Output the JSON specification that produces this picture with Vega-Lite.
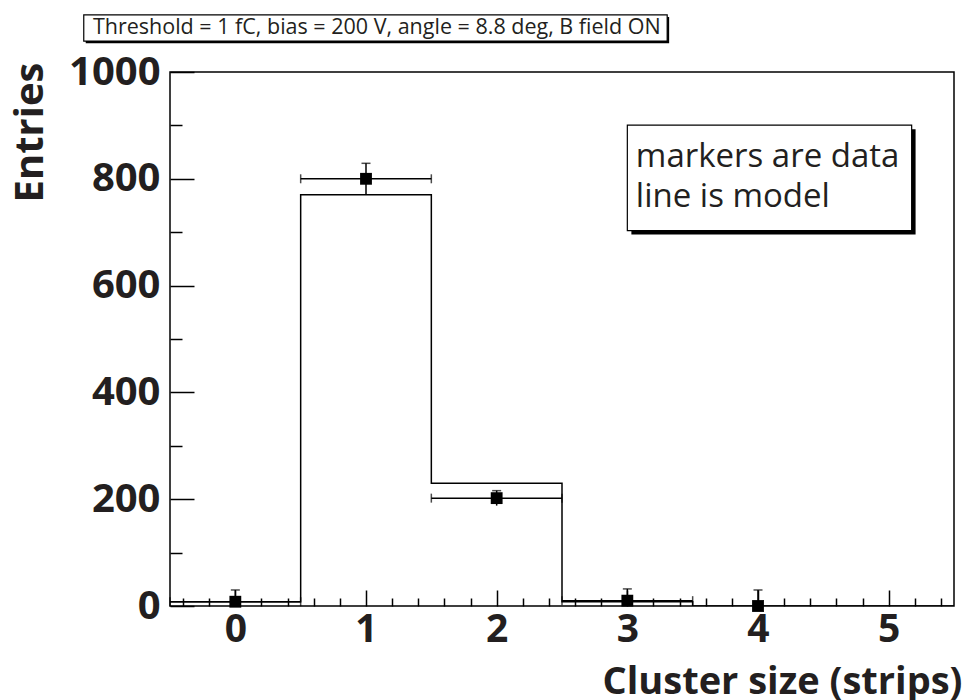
{
  "$schema": "https://vega.github.io/schema/vega-lite/v6.json",
  "autosize": "none",
  "width": 784,
  "height": 534,
  "padding": {"left": 170, "top": 72, "right": 14, "bottom": 94},
  "background": "white",
  "config": {
    "view": {"stroke": "black", "strokeWidth": 1.5},
    "font": "Open Sans",
    "axis": {"labelOverlap": false, "labelFlush": false, "labelBound": false}
  },
  "resolve": {"axis": {"x": "independent"}},
  "datasets": {
    "model": [
      {"edge": -0.5, "count": 8},
      {"edge": 0.5, "count": 770},
      {"edge": 1.5, "count": 230},
      {"edge": 2.5, "count": 8},
      {"edge": 3.5, "count": 0},
      {"edge": 4.5, "count": 0},
      {"edge": 5.5, "count": 0}
    ],
    "points": [
      {"size": 0, "entries": 8, "lo": 8, "hi": 30, "xlo": -0.5, "xhi": 0.5},
      {"size": 1, "entries": 800, "lo": 771, "hi": 829, "xlo": 0.5, "xhi": 1.5},
      {"size": 2, "entries": 202, "lo": 188, "hi": 216, "xlo": 1.5, "xhi": 2.5},
      {"size": 3, "entries": 10, "lo": 10, "hi": 32, "xlo": 2.5, "xhi": 3.5},
      {"size": 4, "entries": 0, "lo": 0, "hi": 30, "xlo": 3.5, "xhi": 4.5}
    ]
  },
  "layer": [
    {
      "data": {"name": "model"},
      "mark": {"type": "line", "interpolate": "step-after", "color": "black", "strokeWidth": 1.5, "clip": true},
      "encoding": {
        "x": {
          "field": "edge", "type": "quantitative",
          "scale": {"domain": [-0.5, 5.5], "nice": false, "zero": false},
          "axis": {
            "orient": "bottom",
            "values": [0, 1, 2, 3, 4, 5],
            "format": "d",
            "title": "Cluster size (strips)",
            "titleFont": "Open Sans", "titleFontSize": 38, "titleFontWeight": "bold", "titleColor": "#231f20",
            "titleAlign": "right", "titleBaseline": "alphabetic", "titleX": 792, "titleY": 87,
            "labelFont": "Open Sans", "labelFontSize": 39, "labelFontWeight": "bold", "labelColor": "#231f20",
            "labelPadding": 20, "labelOverlap": false, "labelFlush": false,
            "domain": false, "grid": false,
            "tickColor": "black", "tickWidth": 1.5, "tickSize": -16
          }
        },
        "y": {
          "field": "count", "type": "quantitative",
          "scale": {"domain": [0, 1000], "nice": false, "zero": true},
          "axis": {
            "values": [0,50,100,150,200,250,300,350,400,450,500,550,600,650,700,750,800,850,900,950,1000],
            "labelExpr": "datum.value % 200 === 0 ? format(datum.value, 'd') : ''",
            "title": "Entries",
            "titleFont": "Open Sans", "titleFontSize": 40, "titleFontWeight": "bold", "titleColor": "#231f20",
            "titleAngle": 270, "titleAlign": "right", "titleBaseline": "middle", "titleX": -140, "titleY": -10,
            "labelFont": "Open Sans", "labelFontSize": 40, "labelFontWeight": "bold", "labelColor": "#231f20",
            "labelPadding": 34, "labelOverlap": false, "labelFlush": false,
            "domain": false, "grid": false,
            "tickColor": "black", "tickWidth": 1.5,
            "tickSize": {"condition": {"test": "datum.value % 200 === 0", "value": -24}, "value": -12}
          }
        }
      }
    },
    {
      "data": {"name": "points"},
      "transform": [{"filter": "datum.entries > 0"}],
      "mark": {"type": "rule", "color": "black", "strokeWidth": 1.5},
      "encoding": {
        "x": {
          "field": "xlo", "type": "quantitative",
          "axis": {
            "orient": "bottom",
            "values": [-0.4,-0.2,0.2,0.4,0.6,0.8,1.2,1.4,1.6,1.8,2.2,2.4,2.6,2.8,3.2,3.4,3.6,3.8,4.2,4.4,4.6,4.8,5.2,5.4],
            "labels": false, "title": null, "domain": false, "grid": false,
            "tickColor": "black", "tickWidth": 1.5, "tickSize": -8
          }
        },
        "x2": {"field": "xhi"},
        "y": {"field": "entries", "type": "quantitative"}
      }
    },
    {
      "data": {"name": "points"},
      "transform": [{"filter": "datum.entries > 0"}],
      "mark": {"type": "tick", "orient": "vertical", "color": "black", "size": 9, "thickness": 1.5},
      "encoding": {
        "x": {"field": "xlo", "type": "quantitative", "axis": null},
        "y": {"field": "entries", "type": "quantitative"}
      }
    },
    {
      "data": {"name": "points"},
      "transform": [{"filter": "datum.entries > 0"}],
      "mark": {"type": "tick", "orient": "vertical", "color": "black", "size": 9, "thickness": 1.5},
      "encoding": {
        "x": {"field": "xhi", "type": "quantitative", "axis": null},
        "y": {"field": "entries", "type": "quantitative"}
      }
    },
    {
      "data": {"name": "points"},
      "mark": {"type": "rule", "color": "black", "strokeWidth": 1.5},
      "encoding": {
        "x": {"field": "size", "type": "quantitative", "axis": null},
        "y": {"field": "lo", "type": "quantitative"},
        "y2": {"field": "hi"}
      }
    },
    {
      "data": {"name": "points"},
      "mark": {"type": "tick", "orient": "horizontal", "color": "black", "size": 9, "thickness": 1.5},
      "encoding": {
        "x": {"field": "size", "type": "quantitative", "axis": null},
        "y": {"field": "hi", "type": "quantitative"}
      }
    },
    {
      "data": {"name": "points"},
      "mark": {"type": "point", "shape": "square", "filled": true, "color": "black", "size": 140, "opacity": 1},
      "encoding": {
        "x": {"field": "size", "type": "quantitative", "axis": null},
        "y": {"field": "entries", "type": "quantitative"}
      }
    },
    {
      "data": {"values": [{}]},
      "mark": {"type": "rect", "fill": "black"},
      "encoding": {
        "x": {"datum": 3.031, "axis": null}, "x2": {"datum": 5.206},
        "y": {"datum": 893}, "y2": {"datum": 695.5}
      }
    },
    {
      "data": {"values": [{}]},
      "mark": {"type": "rect", "fill": "white", "stroke": "black", "strokeWidth": 1.2},
      "encoding": {
        "x": {"datum": 3.0, "axis": null}, "x2": {"datum": 5.176},
        "y": {"datum": 900.4}, "y2": {"datum": 703}
      }
    },
    {
      "data": {"values": [{"t": "markers are data"}]},
      "mark": {"type": "text", "align": "left", "baseline": "alphabetic", "font": "Open Sans", "fontSize": 33, "color": "#231f20"},
      "encoding": {"x": {"datum": 3.065, "axis": null}, "y": {"datum": 822}, "text": {"field": "t"}}
    },
    {
      "data": {"values": [{"t": "line is model"}]},
      "mark": {"type": "text", "align": "left", "baseline": "alphabetic", "font": "Open Sans", "fontSize": 33, "color": "#231f20"},
      "encoding": {"x": {"datum": 3.065, "axis": null}, "y": {"datum": 747}, "text": {"field": "t"}}
    },
    {
      "data": {"values": [{}]},
      "mark": {"type": "rect", "fill": "black"},
      "encoding": {
        "x": {"datum": -1.145, "axis": null}, "x2": {"datum": 3.32},
        "y": {"datum": 1103}, "y2": {"datum": 1054}
      }
    },
    {
      "data": {"values": [{}]},
      "mark": {"type": "rect", "fill": "white", "stroke": "black", "strokeWidth": 1.2},
      "encoding": {
        "x": {"datum": -1.16, "axis": null}, "x2": {"datum": 3.305},
        "y": {"datum": 1107}, "y2": {"datum": 1058}
      }
    },
    {
      "data": {"values": [{"t": "Threshold = 1 fC, bias = 200 V, angle = 8.8 deg, B field ON"}]},
      "mark": {"type": "text", "align": "left", "baseline": "middle", "font": "Open Sans", "fontSize": 21.5, "color": "#231f20"},
      "encoding": {"x": {"datum": -1.09, "axis": null}, "y": {"datum": 1083}, "text": {"field": "t"}}
    }
  ]
}
